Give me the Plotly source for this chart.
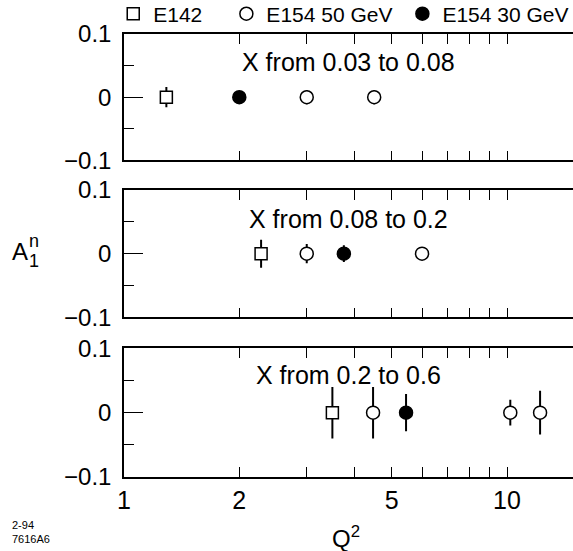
import plotly.graph_objects as go

# ---------------- data ----------------
panel_titles = ["X from 0.03 to 0.08", "X from 0.08 to 0.2", "X from 0.2 to 0.6"]
series_names = ["E142", "E154 50 GeV", "E154 30 GeV"]

# Q^2 positions and A1n (all zero) with errors, per panel
e142_q2 = [[1.29], [2.28], [3.5]]
e142_a1 = [[0.0], [0.0], [0.0]]
e142_err = [[0.016], [0.022], [0.040]]

e154_50_q2 = [[3.0, 4.5], [3.0, 6.0], [4.47, 10.2, 12.2]]
e154_50_a1 = [[0.0, 0.0], [0.0, 0.0], [0.0, 0.0, 0.0]]
e154_50_err = [[0.011, 0.011], [0.015, 0.006], [0.040, 0.020, 0.034]]

e154_30_q2 = [[2.0], [3.75], [5.45]]
e154_30_a1 = [[0.0], [0.0], [0.0]]
e154_30_err = [[0.008], [0.013], [0.029]]

x_tickvals = [1, 2, 5, 10]
x_ticktext = ["1", "2", "5", "10"]
x_minor = [3, 4, 6, 7, 8, 9]
y_tickvals = [-0.1, 0, 0.1]
y_ticktext = ["\u22120.1", "0", "0.1"]
y_minor = [-0.05, 0.05]

FONT = "Liberation Sans, Arial, sans-serif"
fig = go.Figure()

styles = [
    dict(symbol="square", size=12, color="white", line=dict(color="black", width=1.5)),
    dict(symbol="circle", size=13, color="white", line=dict(color="black", width=1.5)),
    dict(symbol="circle", size=13, color="black", line=dict(color="black", width=1.5)),
]
legend_ids = ["legend", "legend2", "legend3"]

all_series = [
    (e142_q2, e142_a1, e142_err),
    (e154_50_q2, e154_50_a1, e154_50_err),
    (e154_30_q2, e154_30_a1, e154_30_err),
]

for p in range(3):
    xa = "x" if p == 0 else f"x{p+1}"
    ya = "y" if p == 0 else f"y{p+1}"
    for s, (qs, av, er) in enumerate(all_series):
        fig.add_trace(go.Scatter(
            x=qs[p], y=av[p], mode="markers", name=series_names[s],
            legendgroup=series_names[s], showlegend=(p == 0),
            legend=legend_ids[s],
            marker=styles[s],
            error_y=dict(type="data", array=er[p], visible=True, width=0,
                         thickness=2, color="black"),
            xaxis=xa, yaxis=ya, cliponaxis=False,
        ))

xr = [0, 1.1723]
yr = [-0.1, 0.1]
domains = [[0.7145, 1.0], [0.3605, 0.6479], [0.0, 0.2905]]

leg_common = dict(orientation="h", xanchor="left", y=1.045, yanchor="middle",
                  font=dict(size=21, family=FONT), bgcolor="rgba(0,0,0,0)",
                  borderwidth=0, itemwidth=30)

layout = dict(
    width=573, height=551,
    margin=dict(l=124, r=0, t=34, b=74, autoexpand=False),
    paper_bgcolor="white", plot_bgcolor="white",
    font=dict(family=FONT, color="black"),
    showlegend=True,
    legend=dict(x=-0.024, **leg_common),
    legend2=dict(x=0.228, **leg_common),
    legend3=dict(x=0.62, **leg_common),
)

for p in range(3):
    n = "" if p == 0 else str(p + 1)
    xa_name = "xaxis" + n
    ya_name = "yaxis" + n
    ya_ref = "y" + n
    xa_ref = "x" + n
    layout[xa_name] = dict(
        type="log", range=xr, anchor=ya_ref, domain=[0, 1],
        showline=True, linewidth=1.5, linecolor="black", mirror="ticks",
        ticks="inside", tickvals=x_tickvals, ticktext=x_ticktext, ticklen=10,
        tickwidth=1.2, tickcolor="black",
        minor=dict(tickvals=x_minor, ticks="inside", ticklen=10, tickwidth=1.2, tickcolor="black"),
        showgrid=False, zeroline=False,
        showticklabels=(p == 2), tickfont=dict(size=25, family=FONT),
        ticklabelstandoff=0,
    )
    if p < 2:
        layout[xa_name]["matches"] = "x3"
    layout[ya_name] = dict(
        range=yr, domain=domains[p], anchor=xa_ref,
        showline=True, linewidth=1.5, linecolor="black", mirror=False,
        ticks="inside", tickvals=y_tickvals, ticktext=y_ticktext, ticklen=19,
        tickwidth=1.2, tickcolor="black",
        minor=dict(tickvals=y_minor, ticks="inside", ticklen=10, tickwidth=1.2, tickcolor="black"),
        showgrid=False, zeroline=False,
        tickfont=dict(size=24, family=FONT), ticklabelstandoff=6,
    )
    # overlay x axis for the long decade tick at 10
    layout["xaxis" + str(p + 4)] = dict(
        type="log", range=xr, overlaying=xa_ref, anchor=ya_ref,
        showline=False, ticks="inside", tickvals=[10], ticklen=18, tickwidth=1.2,
        tickcolor="black", mirror="ticks", showticklabels=False,
        showgrid=False, zeroline=False,
    )
    # overlay y axis for right-hand ticks (no line)
    layout["yaxis" + str(p + 4)] = dict(
        range=yr, overlaying=ya_ref, anchor=xa_ref, side="right",
        showline=False, ticks="inside", tickvals=[0], ticklen=19, tickwidth=1.2,
        tickcolor="black",
        minor=dict(tickvals=y_minor, ticks="inside", ticklen=10, tickwidth=1.2, tickcolor="black"),
        showticklabels=False, showgrid=False, zeroline=False,
    )

fig.update_layout(**layout)

text_y = [0.055, 0.054, 0.058]
for p in range(3):
    n = "" if p == 0 else str(p + 1)
    fig.add_annotation(text=panel_titles[p], x=0.499, xref="x" + n + " domain",
                       y=text_y[p], yref="y" + n, showarrow=False,
                       xanchor="center", yanchor="middle",
                       font=dict(size=25, family=FONT))

# axis titles
fig.add_annotation(text="Q<sup>2</sup>", x=0.495, xref="paper", y=-0.135, yref="paper",
                   showarrow=False, xanchor="center", yanchor="middle",
                   font=dict(size=24, family=FONT))
fig.add_annotation(text="A", x=-0.232, xref="paper", y=0.508, yref="paper",
                   showarrow=False, xanchor="center", yanchor="middle",
                   font=dict(size=24, family=FONT))
fig.add_annotation(text="n", x=-0.2, xref="paper", y=0.532, yref="paper",
                   showarrow=False, xanchor="center", yanchor="middle",
                   font=dict(size=18, family=FONT))
fig.add_annotation(text="1", x=-0.2, xref="paper", y=0.488, yref="paper",
                   showarrow=False, xanchor="center", yanchor="middle",
                   font=dict(size=18, family=FONT))
fig.add_annotation(text="2-94<br>7616A6", x=-0.254, xref="paper", y=-0.124, yref="paper",
                   showarrow=False, xanchor="left", yanchor="middle", align="left",
                   font=dict(size=11, family=FONT))

fig.write_html("out.html")
